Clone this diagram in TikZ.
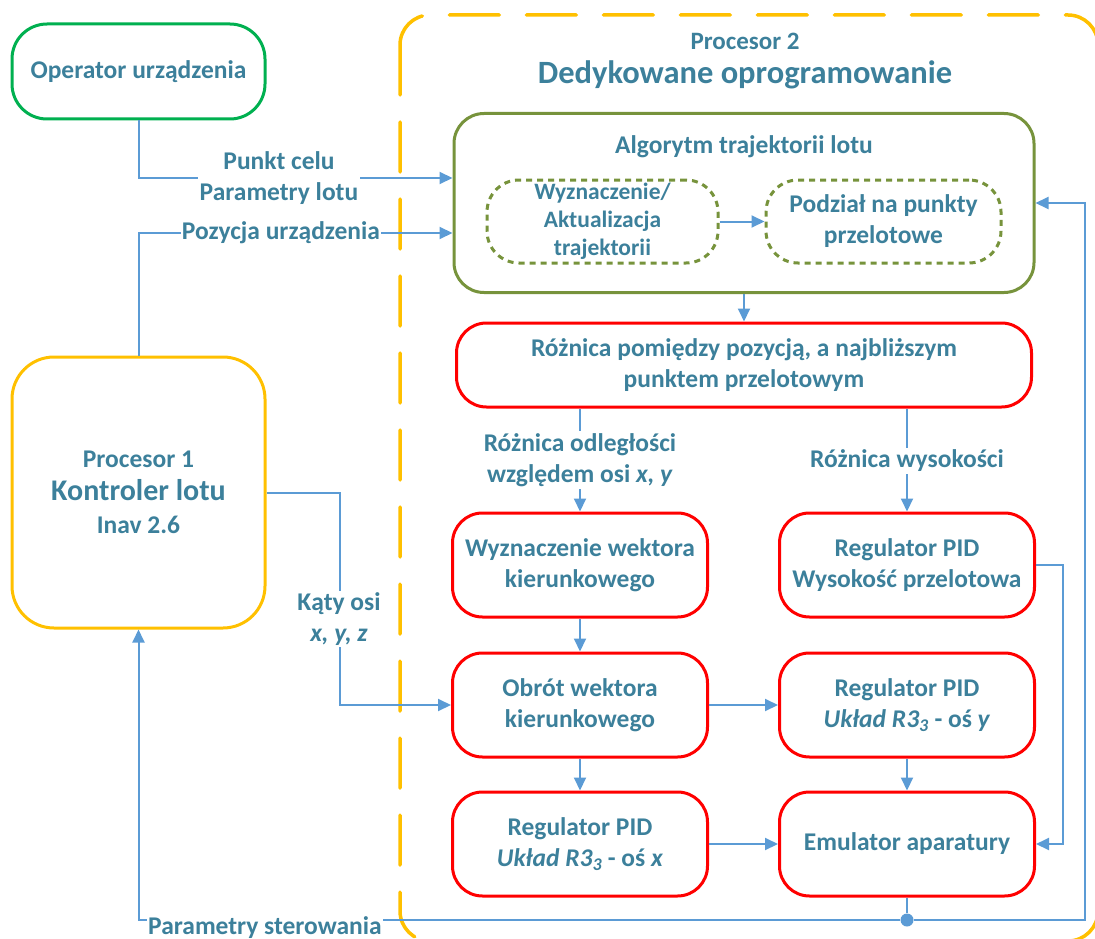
\documentclass[tikz,border=0pt]{standalone}
\usepackage{fontspec}
\setmainfont{Carlito}
\usetikzlibrary{arrows.meta,calc}
\definecolor{txt}{RGB}{60,128,155}
\definecolor{ln}{RGB}{91,155,213}
\definecolor{grn}{RGB}{0,176,80}
\definecolor{yel}{RGB}{255,192,0}
\definecolor{olv}{RGB}{119,147,60}
\definecolor{rd}{RGB}{255,0,0}
\newcommand{\fN}{\fontsize{25.5}{31}\selectfont}
\newcommand{\fS}{\fontsize{23.5}{28}\selectfont}
\begin{document}
\begin{tikzpicture}[x=1pt,y=-1pt,
  box/.style={draw, line width=3pt, rounded corners=30pt, align=center, text=txt, font=\bfseries\fN, inner sep=0pt},
  redbox/.style={box, draw=rd, minimum width=255pt, minimum height=104pt},
  dbox/.style={box, draw=olv, dash pattern=on 6pt off 5pt, minimum height=83pt, rounded corners=32pt},
  conn/.style={draw=ln, line width=2pt, -{Triangle[length=13pt,width=12pt]}},
  plain/.style={draw=ln, line width=2pt},
  lbl/.style={fill=white, text=txt, font=\bfseries\fN, align=center, inner sep=2pt},
  ttl/.style={text=txt, font=\bfseries\fN, align=center, inner sep=0pt}]
\useasboundingbox (0,0) rectangle (1095,939);
% helper coordinates
\coordinate (c178) at (0,178);
\coordinate (c233) at (0,233);
\coordinate (c920) at (0,920);
\coordinate (xk) at (340,0);
\coordinate (xr) at (1063,0);
\coordinate (xrr) at (1085,0);
% big dashed frame
\draw[yel, line width=3.5pt, dash pattern=on 50pt off 27pt, line cap=round, rounded corners=30pt] (400,15) rectangle (1098,941);
% nodes
\node[box, draw=grn, minimum width=253pt, minimum height=95pt, rounded corners=35pt] (op) at (138.5,71.5) {Operator urządzenia};
\node[box, draw=yel, minimum width=253pt, minimum height=271pt, rounded corners=42pt, font=\bfseries\fontsize{25.5}{33}\selectfont] (p1) at (138.5,492.5) {Procesor 1\\{\fontsize{30}{33}\selectfont Kontroler lotu}\\Inav 2.6};
\node[ttl, font=\bfseries\fontsize{25}{34}\selectfont] (p2) at (745,61) {Procesor 2\\{\fontsize{32.5}{34}\selectfont Dedykowane oprogramowanie}};
\node[box, draw=olv, minimum width=580pt, minimum height=179pt] (alg) at (744,203) {};
\node[ttl] (algt) at (744,147) {Algorytm trajektorii lotu};
\node[dbox, minimum width=231pt, font=\bfseries\fS] (in1) at (602.5,221.5) {Wyznaczenie/\\Aktualizacja\\trajektorii};
\node[dbox, minimum width=235pt] (in2) at (883.5,221.5) {Podział na punkty\\przelotowe};
\node[redbox, minimum width=575pt, minimum height=84pt] (roz) at (744,365) {Różnica pomiędzy pozycją, a najbliższym\\punktem przelotowym};
\node[redbox] (wyz) at (580,565) {Wyznaczenie wektora\\kierunkowego};
\node[redbox] (wys) at (907,565) {Regulator PID\\Wysokość przelotowa};
\node[redbox] (obr) at (580,705) {Obrót wektora\\kierunkowego};
\node[redbox] (regy) at (907,705) {Regulator PID\\\textit{Układ R3\textsubscript{3}} - oś \textit{y}};
\node[redbox] (regx) at (580,844) {Regulator PID\\\textit{Układ R3\textsubscript{3}} - oś \textit{x}};
\node[redbox] (emu) at (907,844) {Emulator aparatury};
\node[circle, fill=ln, inner sep=0pt, minimum size=13pt] (dot) at (emu.south |- c920) {};
% connectors
\draw[conn] (op.south) |- (alg.west |- c178);
\draw[conn] (p1.north) |- (alg.west |- c233);
\draw[conn] (p1.east) -- (p1.east -| xk) |- (obr.west);
\draw[conn] (in1.east) -- (in2.west);
\draw[conn] (alg.south) -- (roz.north);
\draw[conn] (roz.south -| wyz.north) -- (wyz.north);
\draw[conn] (roz.south -| wys.north) -- (wys.north);
\draw[conn] (wyz.south) -- (obr.north);
\draw[conn] (obr.south) -- (regx.north);
\draw[conn] (obr.east) -- (regy.west);
\draw[conn] (regy.south) -- (emu.north);
\draw[conn] (regx.east) -- (emu.west);
\draw[conn] (wys.east) -- (wys.east -| xr) |- (emu.east);
\draw[plain] (emu.south) -- (dot);
\draw[conn] (dot) -| (p1.south);
\draw[conn] (dot) -- (dot -| xrr) |- (alg.east);
% labels
\node[lbl] (l1) at (279,178) {Punkt celu\\Parametry lotu};
\node[lbl, inner sep=1pt] (l2) at (281,233) {Pozycja urządzenia};
\node[lbl] (l3) at (339,619) {Kąty osi\\\textit{x, y, z}};
\node[lbl] (l4) at (580,460) {Różnica odległości\\względem osi \textit{x, y}};
\node[lbl] (l5) at (907,461) {Różnica wysokości};
\node[lbl, anchor=base, inner sep=1pt] (l6) at (265,934) {Parametry sterowania};
\end{tikzpicture}
\end{document}
